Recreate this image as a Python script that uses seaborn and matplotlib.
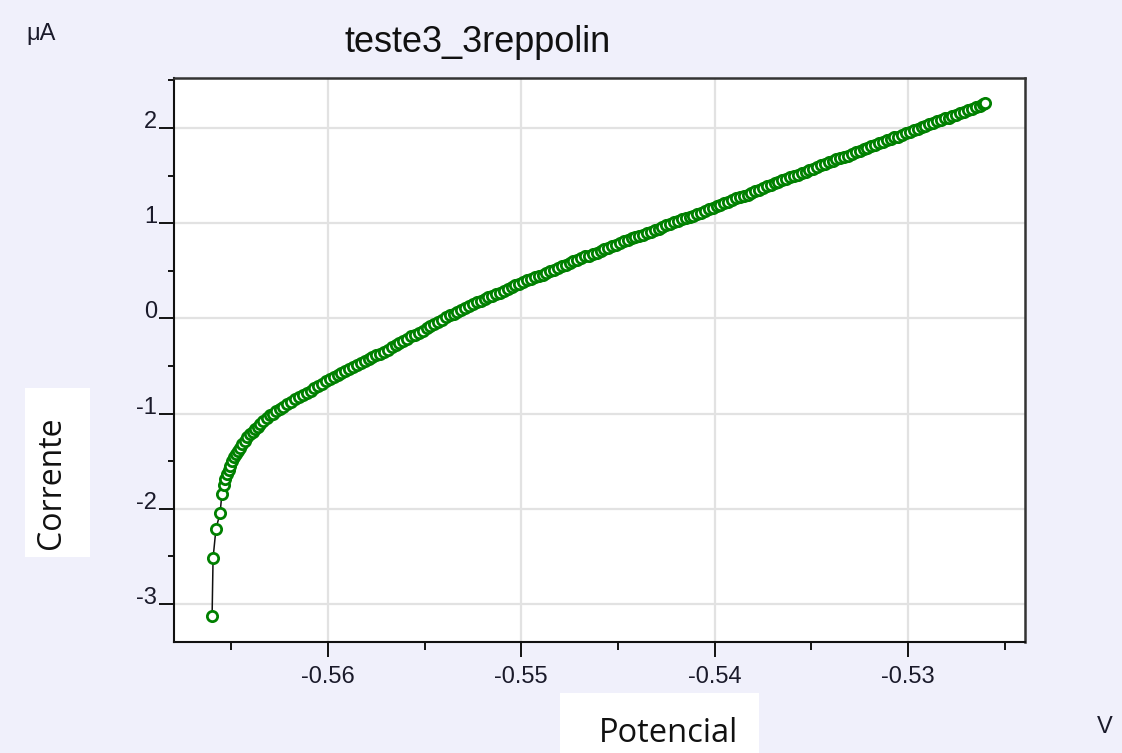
import matplotlib
matplotlib.use("Agg")
import matplotlib.pyplot as plt
from matplotlib.patches import Rectangle
from matplotlib.ticker import FixedLocator
import seaborn as sns
import pandas as pd

# Linear polarization sweep: potential (V) and current (uA)
potential_v = [
    -0.56599, -0.56594, -0.56579, -0.56558, -0.56548, -0.56537,
    -0.56530, -0.56522, -0.56514, -0.56505, -0.56496, -0.56485, -0.56475,
    -0.56465, -0.56455, -0.56442, -0.56429, -0.56416, -0.56403, -0.56390,
    -0.56377, -0.56364, -0.56351, -0.56334, -0.56317, -0.56300, -0.56283,
    -0.56266, -0.56250, -0.56233,
    -0.56210, -0.56190, -0.56170, -0.56150, -0.56130, -0.56110, -0.56090,
    -0.56070, -0.56050, -0.56030, -0.56010, -0.55990, -0.55970, -0.55950,
    -0.55930, -0.55910, -0.55890, -0.55870, -0.55850, -0.55830, -0.55810,
    -0.55790, -0.55770, -0.55750, -0.55730, -0.55710, -0.55690, -0.55670,
    -0.55650, -0.55630, -0.55610, -0.55590, -0.55570, -0.55550, -0.55530,
    -0.55510, -0.55490, -0.55470, -0.55450, -0.55430, -0.55410, -0.55390,
    -0.55370, -0.55350, -0.55330, -0.55310, -0.55290, -0.55270, -0.55250,
    -0.55230, -0.55210, -0.55190, -0.55170, -0.55150, -0.55130, -0.55110,
    -0.55090, -0.55070, -0.55050, -0.55030, -0.55010, -0.54990, -0.54970,
    -0.54950, -0.54930, -0.54910, -0.54890, -0.54870, -0.54850, -0.54830,
    -0.54810, -0.54790, -0.54770, -0.54750, -0.54730, -0.54710, -0.54690,
    -0.54670, -0.54650, -0.54630, -0.54610, -0.54590, -0.54570, -0.54550,
    -0.54530, -0.54510, -0.54490, -0.54470, -0.54450, -0.54430, -0.54410,
    -0.54390, -0.54370, -0.54350, -0.54330, -0.54310, -0.54290, -0.54270,
    -0.54250, -0.54230, -0.54210, -0.54190, -0.54170, -0.54150, -0.54130,
    -0.54110, -0.54090, -0.54070, -0.54050, -0.54030, -0.54010, -0.53990,
    -0.53970, -0.53950, -0.53930, -0.53910, -0.53890, -0.53870, -0.53850,
    -0.53830, -0.53810, -0.53790, -0.53770, -0.53750, -0.53730, -0.53710,
    -0.53690, -0.53670, -0.53650, -0.53630, -0.53610, -0.53590, -0.53570,
    -0.53550, -0.53530, -0.53510, -0.53490, -0.53470, -0.53450, -0.53430,
    -0.53410, -0.53390, -0.53370, -0.53350, -0.53330, -0.53310, -0.53290,
    -0.53270, -0.53250, -0.53230, -0.53210, -0.53190, -0.53170, -0.53150,
    -0.53130, -0.53110, -0.53090, -0.53070, -0.53050, -0.53030, -0.53010,
    -0.52990, -0.52970, -0.52950, -0.52930, -0.52910, -0.52890, -0.52870,
    -0.52850, -0.52830, -0.52810, -0.52790, -0.52770, -0.52750, -0.52730,
    -0.52710, -0.52690, -0.52670, -0.52650, -0.52630, -0.52610, -0.52600,
]
current_ua = [
    -3.13, -2.52, -2.21, -2.05, -1.84, -1.75,
    -1.69, -1.64, -1.59, -1.55, -1.50, -1.46, -1.42,
    -1.39, -1.36, -1.32, -1.29, -1.25, -1.22, -1.19,
    -1.16, -1.14, -1.11, -1.08, -1.05, -1.02, -1.00,
    -0.97, -0.95, -0.93,
    -0.90, -0.88, -0.85, -0.83, -0.80, -0.78, -0.76,
    -0.73, -0.71, -0.69, -0.66, -0.64, -0.62, -0.59,
    -0.57, -0.55, -0.53, -0.51, -0.49, -0.47, -0.45,
    -0.43, -0.41, -0.39, -0.37, -0.35, -0.33, -0.30,
    -0.28, -0.26, -0.24, -0.22, -0.19, -0.17, -0.15,
    -0.13, -0.10, -0.08, -0.06, -0.04, -0.02, 0.01,
    0.03, 0.05, 0.07, 0.09, 0.11, 0.13, 0.15,
    0.17, 0.18, 0.20, 0.22, 0.24, 0.26, 0.27,
    0.29, 0.31, 0.33, 0.35, 0.36, 0.38, 0.40,
    0.41, 0.43, 0.45, 0.46, 0.48, 0.50, 0.51,
    0.53, 0.55, 0.56, 0.58, 0.60, 0.61, 0.63,
    0.65, 0.66, 0.68, 0.69, 0.71, 0.73, 0.74,
    0.76, 0.77, 0.79, 0.81, 0.82, 0.84, 0.85,
    0.87, 0.88, 0.90, 0.91, 0.93, 0.94, 0.96,
    0.98, 0.99, 1.01, 1.02, 1.04, 1.05, 1.07,
    1.08, 1.10, 1.11, 1.13, 1.15, 1.16, 1.18,
    1.19, 1.21, 1.22, 1.24, 1.26, 1.27, 1.29,
    1.30, 1.32, 1.34, 1.35, 1.37, 1.39, 1.40,
    1.42, 1.43, 1.45, 1.46, 1.48, 1.50, 1.51,
    1.53, 1.54, 1.56, 1.57, 1.59, 1.61, 1.62,
    1.64, 1.65, 1.67, 1.68, 1.70, 1.71, 1.73,
    1.75, 1.76, 1.78, 1.79, 1.81, 1.82, 1.84,
    1.85, 1.87, 1.88, 1.90, 1.91, 1.93, 1.95,
    1.96, 1.98, 1.99, 2.01, 2.02, 2.04, 2.05,
    2.07, 2.08, 2.10, 2.11, 2.13, 2.14, 2.16,
    2.17, 2.19, 2.20, 2.22, 2.23, 2.25, 2.26,
]

x_major = [-0.56, -0.55, -0.54, -0.53]
x_minor = [-0.565, -0.555, -0.545, -0.535, -0.525]
x_labels = ["-0.56", "-0.55", "-0.54", "-0.53"]
y_major = [-3, -2, -1, 0, 1, 2]
y_minor = [-2.5, -1.5, -0.5, 0.5, 1.5, 2.5]
y_labels = ["-3", "-2", "-1", "0", "1", "2"]

title_text = "teste3_3reppolin"
unit_y = "\u03bcA"
unit_x = "V"
label_y = "Corrente"
label_x = "Potencial"

df = pd.DataFrame({"potencial": potential_v, "corrente": current_ua})

sns.set_theme(style="white")
plt.rcParams["font.family"] = ["Liberation Sans", "DejaVu Sans"]
plt.rcParams["axes.unicode_minus"] = False

W, H = 1122, 753
fig = plt.figure(figsize=(W / 100, H / 100), dpi=100)
fig.patch.set_facecolor("#F0F0FB")

ax = fig.add_axes([174 / W, 1 - 642 / H, (1025 - 174) / W, (642 - 78) / H])
ax.set_facecolor("white")

sns.lineplot(
    data=df, x="potencial", y="corrente", ax=ax, sort=False, estimator=None,
    color="#111111", linewidth=1.1, marker="o", markersize=7.4,
    markerfacecolor="white", markeredgecolor="#008000", markeredgewidth=2.0,
)

ax.set_xlim(-0.56796, -0.52395)
ax.set_ylim(-3.40, 2.525)

ax.xaxis.set_major_locator(FixedLocator(x_major))
ax.xaxis.set_minor_locator(FixedLocator(x_minor))
ax.yaxis.set_major_locator(FixedLocator(y_major))
ax.yaxis.set_minor_locator(FixedLocator(y_minor))
ax.set_xticklabels(x_labels)
ax.set_yticklabels(y_labels)

ax.grid(True, which="major", color="#E2E2E2", linewidth=1.6)
ax.set_axisbelow(True)

ax.tick_params(axis="both", which="major", direction="out", length=11, width=1.4,
               color="#111111", labelsize=17, labelcolor="#1a1a2a")
ax.tick_params(axis="x", which="major", pad=6)
ax.tick_params(axis="y", which="major", pad=1)
ax.tick_params(axis="x", which="minor", direction="out", length=5.5, width=1.4,
               color="#111111")
ax.tick_params(axis="y", which="minor", direction="out", length=4.5, width=1.4,
               color="#111111")
ax.tick_params(left=True, bottom=True, top=False, right=False)
ax.tick_params(which="minor", left=True, bottom=True, top=False, right=False)
plt.setp(ax.get_yticklabels(), va="baseline")

for side in ["left", "bottom"]:
    ax.spines[side].set_color("#111111")
    ax.spines[side].set_linewidth(1.5)
for side in ["top", "right"]:
    ax.spines[side].set_color("#333333")
    ax.spines[side].set_linewidth(1.8)

ax.set_xlabel("")
ax.set_ylabel("")

# Title and unit captions
fig.text(478 / W, 1 - 42 / H, title_text, ha="center", va="center",
         fontsize=26, color="#111111")
fig.text(41 / W, 1 - 34 / H, unit_y, ha="center", va="center",
         fontsize=17, color="#1a1a2a")
fig.text(1105 / W, 1 - 727 / H, unit_x, ha="center", va="center",
         fontsize=17, color="#1a1a2a")

# Axis captions on white panels
fig.patches.append(Rectangle((25 / W, 1 - 557 / H), 65 / W, 169 / H,
                             transform=fig.transFigure, facecolor="white",
                             edgecolor="none", zorder=0))
fig.patches.append(Rectangle((560 / W, 0), 199 / W, 60 / H,
                             transform=fig.transFigure, facecolor="white",
                             edgecolor="none", zorder=0))
fig.text(52 / W, 1 - 483 / H, label_y, rotation=90, ha="center", va="center",
         fontsize=23, color="#111111", family=["Open Sans", "DejaVu Sans"])
fig.text(668 / W, 1 - 742 / H, label_x, ha="center", va="baseline",
         fontsize=23.5, color="#111111", family=["Open Sans", "DejaVu Sans"])

fig.savefig("out.png", dpi=100, facecolor=fig.get_facecolor())
